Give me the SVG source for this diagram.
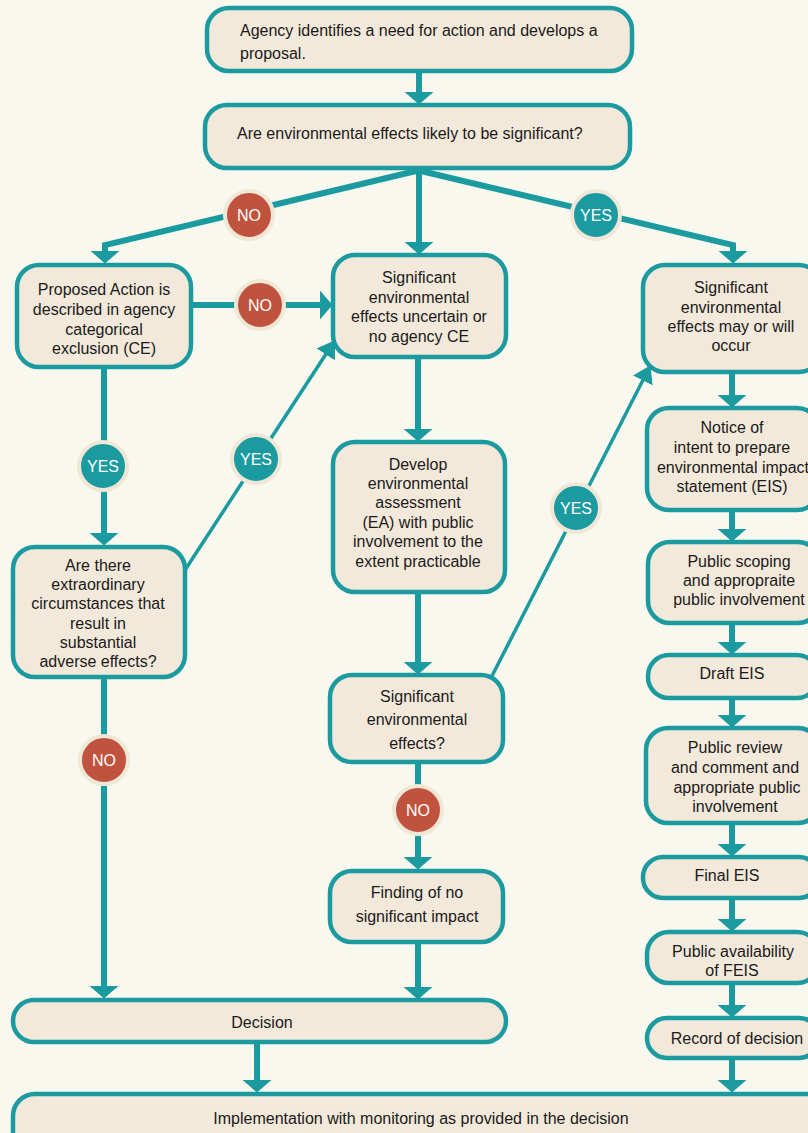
<svg xmlns="http://www.w3.org/2000/svg" width="808" height="1133" viewBox="0 0 808 1133">
<defs>
<style>
.bx{fill:#f3e9da;stroke:#1b9aa0;stroke-width:4.5}
.t{font-family:"Liberation Sans",Arial,sans-serif;font-size:16px;fill:#1a1a1a;text-anchor:middle}
.tl{text-anchor:start}
.c{fill:none;stroke:#1b9aa0;stroke-width:6}
.cd{fill:none;stroke:#1b9aa0;stroke-width:3.5}
.no{fill:#c0533e;stroke:#f1e7d6;stroke-width:4}
.yes{fill:#1b9aa0;stroke:#f1e7d6;stroke-width:4}
.bt{font-family:"Liberation Sans",Arial,sans-serif;font-size:16px;fill:#ffffff;text-anchor:middle}
</style>
<marker id="ah" viewBox="0 0 13 30" markerWidth="13" markerHeight="30" refX="0.5" refY="15" orient="auto" markerUnits="userSpaceOnUse"><path d="M0,0 L13,15 L0,30 Z" fill="#1b9aa0"/></marker>
<marker id="ahs" viewBox="0 0 17 22" markerWidth="17" markerHeight="22" refX="0.5" refY="11" orient="auto" markerUnits="userSpaceOnUse"><path d="M0,0 L17,11 L0,22 Z" fill="#1b9aa0"/></marker>
</defs>
<rect width="808" height="1133" fill="#f9f8ee"/>

<g id="connectors">
<line class="c" x1="419" y1="71" x2="419" y2="92" marker-end="url(#ah)"/>
<polyline class="c" points="416,171 105,245 105,251" marker-end="url(#ah)"/>
<line class="c" x1="419" y1="168" x2="419" y2="242" marker-end="url(#ah)"/>
<polyline class="c" points="421,171 733,245 733,251" marker-end="url(#ah)"/>
<line class="c" x1="191" y1="305" x2="320" y2="305" marker-end="url(#ah)"/>
<line class="c" x1="104" y1="367" x2="104" y2="533" marker-end="url(#ah)"/>
<line class="cd" x1="185" y1="570" x2="326" y2="354" marker-end="url(#ahs)"/>
<line class="c" x1="104" y1="677" x2="104" y2="986" marker-end="url(#ah)"/>
<line class="c" x1="418" y1="357" x2="418" y2="429" marker-end="url(#ah)"/>
<line class="c" x1="418" y1="592" x2="418" y2="662" marker-end="url(#ah)"/>
<line class="c" x1="418" y1="762" x2="418" y2="857" marker-end="url(#ah)"/>
<line class="cd" x1="492" y1="676" x2="643" y2="380" marker-end="url(#ahs)"/>
<line class="c" x1="418" y1="942" x2="418" y2="987" marker-end="url(#ah)"/>
<line class="c" x1="257" y1="1042" x2="257" y2="1080" marker-end="url(#ah)"/>
<line class="c" x1="732" y1="372" x2="732" y2="395" marker-end="url(#ah)"/>
<line class="c" x1="732" y1="510" x2="732" y2="529" marker-end="url(#ah)"/>
<line class="c" x1="732" y1="623" x2="732" y2="642" marker-end="url(#ah)"/>
<line class="c" x1="732" y1="698" x2="732" y2="715" marker-end="url(#ah)"/>
<line class="c" x1="732" y1="823" x2="732" y2="844" marker-end="url(#ah)"/>
<line class="c" x1="732" y1="898" x2="732" y2="919" marker-end="url(#ah)"/>
<line class="c" x1="732" y1="983" x2="732" y2="1005" marker-end="url(#ah)"/>
<line class="c" x1="732" y1="1058" x2="732" y2="1080" marker-end="url(#ah)"/>
</g>

<g id="badges">
<g id="b-no1"><circle class="no" cx="249" cy="215" r="24"/><text class="bt" x="249" y="221">NO</text></g>
<g id="b-yes1"><circle class="yes" cx="596" cy="215" r="24"/><text class="bt" x="596" y="221">YES</text></g>
<g id="b-no2"><circle class="no" cx="260" cy="305" r="24"/><text class="bt" x="260" y="311">NO</text></g>
<g id="b-yes2"><circle class="yes" cx="103" cy="466" r="24"/><text class="bt" x="103" y="472">YES</text></g>
<g id="b-yes3"><circle class="yes" cx="256" cy="459" r="24"/><text class="bt" x="256" y="465">YES</text></g>
<g id="b-no3"><circle class="no" cx="104" cy="760" r="24"/><text class="bt" x="104" y="766">NO</text></g>
<g id="b-yes4"><circle class="yes" cx="576" cy="508" r="24"/><text class="bt" x="576" y="514">YES</text></g>
<g id="b-no4"><circle class="no" cx="418" cy="810" r="24"/><text class="bt" x="418" y="816">NO</text></g>
</g>

<g id="n-agency"><rect class="bx" x="207" y="8" width="425" height="63" rx="22"/>
<text class="t tl" x="240" y="36">Agency identifies a need for action and develops a</text>
<text class="t tl" x="240" y="59">proposal.</text></g>

<g id="n-question"><rect class="bx" x="205" y="105" width="425" height="63" rx="22"/>
<text class="t tl" x="237" y="139">Are environmental effects likely to be significant?</text></g>

<g id="n-proposed"><rect class="bx" x="17" y="265" width="174" height="102" rx="22"/>
<text class="t" x="104" y="295">Proposed Action is</text>
<text class="t" x="104" y="315">described in agency</text>
<text class="t" x="104" y="335">categorical</text>
<text class="t" x="104" y="354">exclusion (CE)</text></g>

<g id="n-uncertain"><rect class="bx" x="333" y="255" width="173" height="102" rx="22"/>
<text class="t" x="419" y="283">Significant</text>
<text class="t" x="419" y="303">environmental</text>
<text class="t" x="419" y="322">effects uncertain or</text>
<text class="t" x="419" y="342">no agency CE</text></g>

<g id="n-mayoccur"><rect class="bx" x="643" y="265" width="178" height="107" rx="22"/>
<text class="t" x="731" y="293">Significant</text>
<text class="t" x="731" y="313">environmental</text>
<text class="t" x="731" y="332">effects may or will</text>
<text class="t" x="731" y="351">occur</text></g>

<g id="n-extraordinary"><rect class="bx" x="13" y="547" width="172" height="130" rx="22"/>
<text class="t" x="98" y="571">Are there</text>
<text class="t" x="98" y="590">extraordinary</text>
<text class="t" x="98" y="609">circumstances that</text>
<text class="t" x="98" y="629">result in</text>
<text class="t" x="98" y="648">substantial</text>
<text class="t" x="98" y="667">adverse effects?</text></g>

<g id="n-develop"><rect class="bx" x="333" y="442" width="172" height="150" rx="22"/>
<text class="t" x="418" y="470">Develop</text>
<text class="t" x="418" y="489">environmental</text>
<text class="t" x="418" y="508">assessment</text>
<text class="t" x="418" y="528">(EA) with public</text>
<text class="t" x="418" y="547">involvement to the</text>
<text class="t" x="418" y="567">extent practicable</text></g>

<g id="n-sigeff"><rect class="bx" x="330" y="675" width="173" height="87" rx="22"/>
<text class="t" x="417" y="702">Significant</text>
<text class="t" x="417" y="725">environmental</text>
<text class="t" x="417" y="749">effects?</text></g>

<g id="n-fonsi"><rect class="bx" x="330" y="871" width="173" height="71" rx="22"/>
<text class="t" x="417" y="898">Finding of no</text>
<text class="t" x="417" y="922">significant impact</text></g>

<g id="n-notice"><rect class="bx" x="647" y="408" width="172" height="102" rx="22"/>
<text class="t" x="732" y="433">Notice of</text>
<text class="t" x="732" y="453">intent to prepare</text>
<text class="t" x="733" y="473">environmental impact</text>
<text class="t" x="732" y="492">statement (EIS)</text></g>

<g id="n-scoping"><rect class="bx" x="648" y="542" width="172" height="81" rx="22"/>
<text class="t" x="739" y="567">Public scoping</text>
<text class="t" x="739" y="586">and appropraite</text>
<text class="t" x="739" y="605">public involvement</text></g>

<g id="n-draft"><rect class="bx" x="648" y="655" width="170" height="43" rx="21"/>
<text class="t" x="732" y="679">Draft EIS</text></g>

<g id="n-review"><rect class="bx" x="646" y="728" width="174" height="95" rx="22"/>
<text class="t" x="735" y="753">Public review</text>
<text class="t" x="735" y="773">and comment and</text>
<text class="t" x="737" y="793">appropriate public</text>
<text class="t" x="735" y="812">involvement</text></g>

<g id="n-final"><rect class="bx" x="643" y="857" width="176" height="41" rx="20"/>
<text class="t" x="727" y="881">Final EIS</text></g>

<g id="n-avail"><rect class="bx" x="647" y="932" width="172" height="51" rx="22"/>
<text class="t" x="733" y="957">Public availability</text>
<text class="t" x="732" y="976">of FEIS</text></g>

<g id="n-record"><rect class="bx" x="647" y="1018" width="172" height="40" rx="20"/>
<text class="t" x="737" y="1044">Record of decision</text></g>

<g id="n-decision"><rect class="bx" x="13" y="1000" width="493" height="42" rx="21"/>
<text class="t" x="262" y="1028">Decision</text></g>

<g id="n-implementation"><rect class="bx" x="13" y="1094" width="815" height="60" rx="22"/>
<text class="t" x="421" y="1124">Implementation with monitoring as provided in the decision</text></g>
</svg>
